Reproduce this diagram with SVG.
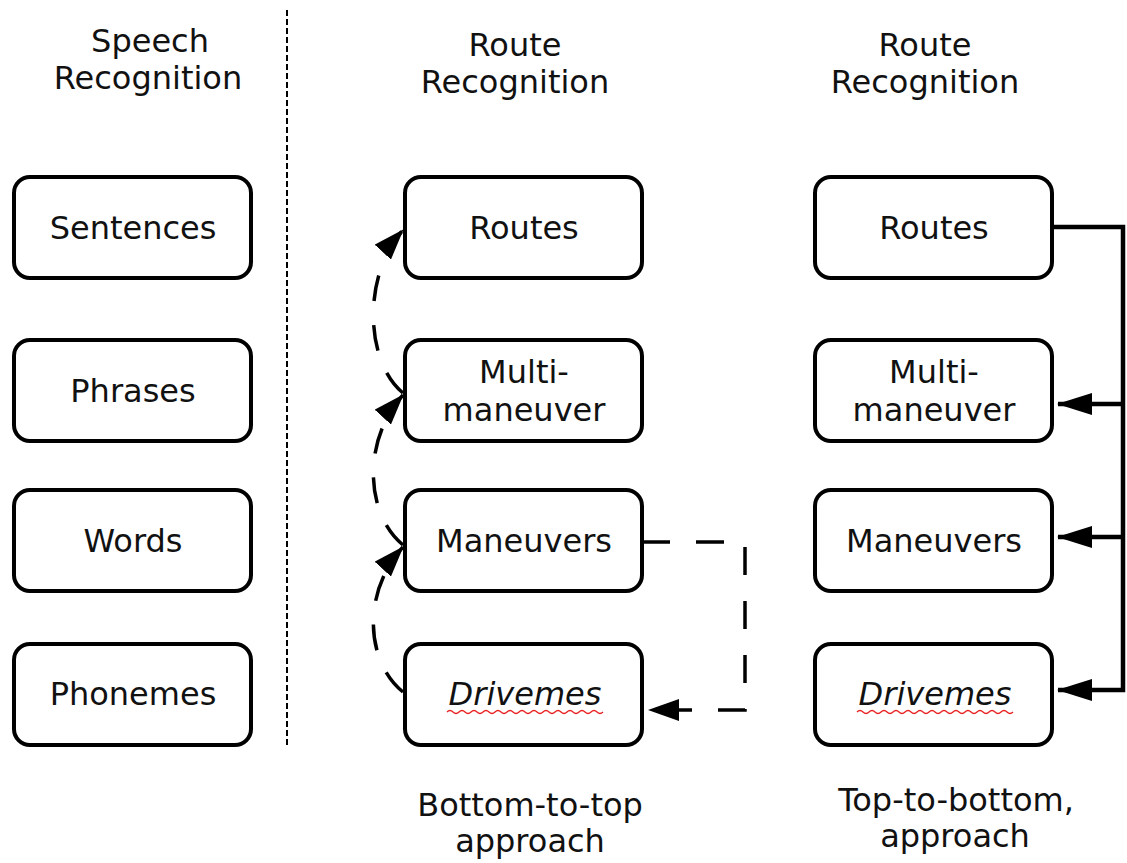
<svg xmlns="http://www.w3.org/2000/svg" width="1127" height="863" viewBox="0 0 1127 863">
<style>
.box{fill:#fff;stroke:#000;stroke-width:4}
.t{font-family:"DejaVu Sans",sans-serif;font-size:32px;fill:#111;text-anchor:middle}
.i{font-style:italic}
.solid{fill:none;stroke:#000;stroke-width:4.5}
.dash{fill:none;stroke:#000;stroke-width:3.5;stroke-dasharray:26,24}
.wave{fill:none;stroke:#e82020;stroke-width:1.3}
</style>
<defs>
<marker id="ah" markerUnits="userSpaceOnUse" viewBox="0 -11 35 22" markerWidth="35" markerHeight="22" refX="34" refY="0" orient="auto">
<path d="M0,-11 L35,0 L0,11 z" fill="#000"/>
</marker>
<marker id="ah2" markerUnits="userSpaceOnUse" viewBox="0 -11 31 22" markerWidth="31" markerHeight="22" refX="30" refY="0" orient="auto">
<path d="M0,-11 L31,0 L0,11 z" fill="#000"/>
</marker>
</defs>
<rect width="1127" height="863" fill="#fff"/>

<g id="headers">
<text class="t" x="150" y="52">Speech</text>
<text class="t" x="148" y="89">Recognition</text>
<text class="t" x="515" y="56">Route</text>
<text class="t" x="515" y="93">Recognition</text>
<text class="t" x="925" y="56">Route</text>
<text class="t" x="925" y="93">Recognition</text>
</g>

<g id="divider">
<line x1="287" y1="10" x2="287" y2="748" stroke="#000" stroke-width="2" stroke-dasharray="6,3"/>
</g>

<g id="n-sentences"><rect class="box" x="14" y="177" width="237" height="101" rx="16"/><text class="t" x="133" y="239">Sentences</text></g>
<g id="n-phrases"><rect class="box" x="14" y="340" width="237" height="101" rx="16"/><text class="t" x="133" y="402">Phrases</text></g>
<g id="n-words"><rect class="box" x="14" y="490" width="237" height="101" rx="16"/><text class="t" x="133" y="552">Words</text></g>
<g id="n-phonemes"><rect class="box" x="14" y="644" width="237" height="101" rx="16"/><text class="t" x="133" y="705">Phonemes</text></g>

<g id="n-routes-m"><rect class="box" x="405" y="177" width="237" height="101" rx="16"/><text class="t" x="524" y="239">Routes</text></g>
<g id="n-multi-m"><rect class="box" x="405" y="340" width="237" height="101" rx="16"/><text class="t" x="524" y="383">Multi-</text><text class="t" x="524" y="421">maneuver</text></g>
<g id="n-man-m"><rect class="box" x="405" y="490" width="237" height="101" rx="16"/><text class="t" x="524" y="552">Maneuvers</text></g>
<g id="n-drive-m"><rect class="box" x="405" y="644" width="237" height="101" rx="16"/><text class="t i" x="525" y="705">Drivemes</text>
<path class="wave" d="M447,712 q3,-3 6,0 t6,0 t6,0 t6,0 t6,0 t6,0 t6,0 t6,0 t6,0 t6,0 t6,0 t6,0 t6,0 t6,0 t6,0 t6,0 t6,0 t6,0 t6,0 t6,0 t6,0 t6,0 t6,0 t6,0 t6,0 t6,0"/></g>

<g id="n-routes-r"><rect class="box" x="815" y="177" width="237" height="101" rx="16"/><text class="t" x="934" y="239">Routes</text></g>
<g id="n-multi-r"><rect class="box" x="815" y="340" width="237" height="101" rx="16"/><text class="t" x="934" y="383">Multi-</text><text class="t" x="934" y="421">maneuver</text></g>
<g id="n-man-r"><rect class="box" x="815" y="490" width="237" height="101" rx="16"/><text class="t" x="934" y="552">Maneuvers</text></g>
<g id="n-drive-r"><rect class="box" x="815" y="644" width="237" height="101" rx="16"/><text class="t i" x="935" y="705">Drivemes</text>
<path class="wave" d="M857,712 q3,-3 6,0 t6,0 t6,0 t6,0 t6,0 t6,0 t6,0 t6,0 t6,0 t6,0 t6,0 t6,0 t6,0 t6,0 t6,0 t6,0 t6,0 t6,0 t6,0 t6,0 t6,0 t6,0 t6,0 t6,0 t6,0 t6,0"/></g>

<g id="connectors">
<path class="dash" d="M403,393 C365,362 362,275 403,230" marker-end="url(#ah2)"/>
<path class="dash" d="M403,545 C365,514 362,440 403,395" marker-end="url(#ah2)"/>
<path class="dash" d="M403,692 C365,661 362,592 403,547" marker-end="url(#ah2)"/>
<path class="dash" d="M642,542 H745 V710 H649" style="stroke-dasharray:28,26" marker-end="url(#ah2)"/>
<path class="solid" d="M1052,227 H1123 V690 H1058" marker-end="url(#ah)"/>
<path class="solid" d="M1123,404 H1058" marker-end="url(#ah)"/>
<path class="solid" d="M1123,537 H1058" marker-end="url(#ah)"/>
</g>

<g id="captions">
<text class="t" x="530" y="816">Bottom-to-top</text>
<text class="t" x="530" y="852">approach</text>
<text class="t" x="956" y="811">Top-to-bottom,</text>
<text class="t" x="955" y="847">approach</text>
</g>
</svg>
